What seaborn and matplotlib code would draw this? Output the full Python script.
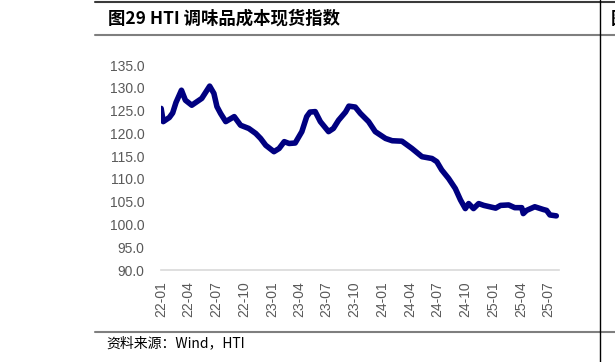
import numpy as np
import pandas as pd
import seaborn as sns
import matplotlib.pyplot as plt
import matplotlib.dates as mdates
from matplotlib.lines import Line2D

# HTI seasoning cost spot index
dates = [
    "2022-01-01", "2022-01-08", "2022-01-28", "2022-02-08", "2022-02-19",
    "2022-03-09", "2022-03-22", "2022-04-12", "2022-05-15", "2022-06-10",
    "2022-06-24", "2022-07-04", "2022-07-16", "2022-08-02", "2022-08-30",
    "2022-09-20", "2022-10-17", "2022-11-09", "2022-11-25", "2022-12-12",
    "2023-01-08", "2023-01-25", "2023-02-11", "2023-02-27", "2023-03-19",
    "2023-04-10", "2023-04-26", "2023-05-07", "2023-05-24", "2023-06-10",
    "2023-07-07", "2023-07-23", "2023-08-09", "2023-09-01", "2023-09-12",
    "2023-10-03", "2023-10-20", "2023-11-16", "2023-12-08", "2024-01-11",
    "2024-02-02", "2024-03-05", "2024-04-07", "2024-05-10", "2024-06-12",
    "2024-06-28", "2024-07-14", "2024-08-06", "2024-08-28", "2024-09-14",
    "2024-09-30", "2024-10-11", "2024-10-27", "2024-11-13", "2024-11-30",
    "2025-01-08", "2025-01-24", "2025-02-20", "2025-03-12", "2025-04-04",
    "2025-04-09", "2025-04-20", "2025-05-17", "2025-06-14", "2025-06-25",
    "2025-07-06", "2025-07-27",
]
index_values = [
    125.5, 122.6, 123.5, 124.5, 126.8,
    129.5, 127.3, 126.2, 127.7, 130.4,
    128.8, 125.9, 124.4, 122.6, 123.7,
    121.8, 121.1, 120.0, 118.9, 117.4,
    116.0, 116.7, 118.2, 117.8, 117.9,
    120.4, 123.7, 124.7, 124.8, 122.6,
    120.4, 121.1, 122.9, 124.7, 126.0,
    125.8, 124.4, 122.6, 120.4, 118.9,
    118.4, 118.3, 116.7, 114.9, 114.5,
    113.8, 112.0, 110.1, 107.9, 105.4,
    103.5, 104.6, 103.5, 104.6, 104.2,
    103.6, 104.2, 104.3, 103.7, 103.7,
    102.4, 103.1, 103.9, 103.3, 103.1,
    102.1, 101.9,
]
tick_dates = pd.date_range("2022-01-01", "2025-07-01", freq="3MS")
y_ticks = np.arange(90, 136, 5)

TITLE = "图29 HTI 调味品成本现货指数"
SOURCE = "资料来源：Wind，HTI"

df = pd.DataFrame({"date": pd.to_datetime(dates), "value": index_values})

sns.set_style("white")
plt.rcParams["font.family"] = ["Liberation Sans", "Noto Sans CJK SC", "DejaVu Sans"]

fig = plt.figure(figsize=(6.15, 3.62), dpi=100)
ax = fig.add_axes([0.262, 0.254, 0.647, 0.566])

sns.lineplot(data=df, x="date", y="value", ax=ax, color="#000080",
             linewidth=4, solid_joinstyle="round", solid_capstyle="round")

ax.set_ylim(90, 135)
ax.set_yticks(y_ticks)
ax.set_yticklabels([f"{v:.1f}" for v in y_ticks])
ax.set_xlim(pd.Timestamp("2022-01-01"), pd.Timestamp("2025-08-05"))
ax.set_xticks(tick_dates)
ax.xaxis.set_major_formatter(mdates.DateFormatter("%y-%m"))
ax.set_xlabel("")
ax.set_ylabel("")

for side in ["left", "top", "right"]:
    ax.spines[side].set_visible(False)
ax.spines["bottom"].set_color("#d9d9d9")
ax.spines["bottom"].set_linewidth(1.2)

ax.tick_params(axis="y", length=0, pad=12, labelsize=10, labelcolor="#595959")
ax.tick_params(axis="x", length=4, width=1, color="#d9d9d9", direction="out",
               pad=4, labelsize=10, labelcolor="#595959", rotation=90)
ax.grid(False)

# report frame: title rule, title, source rule, source
fig.add_artist(Line2D([0.154, 1.0], [0.995, 0.995], color="#3a3a3a", lw=1.5))
fig.add_artist(Line2D([0.154, 1.0], [0.903, 0.903], color="#7f7f7f", lw=1.5))
fig.add_artist(Line2D([0.154, 1.0], [0.0837, 0.0837], color="#7f7f7f", lw=1.5))
fig.add_artist(Line2D([0.9756, 0.9756], [0.0, 1.0], color="#000000", lw=1))

fig.text(0.175, 0.948, TITLE, fontsize=12.5, fontweight="bold", color="#000000",
         family=["Noto Sans CJK SC", "DejaVu Sans"], va="center", ha="left")
# first glyph of the neighbouring panel's title, cut by the page edge as in the source
fig.text(0.993, 0.948, "图", fontsize=12.5, fontweight="bold", color="#000000",
         family=["Noto Sans CJK SC", "DejaVu Sans"], va="center", ha="left")
fig.text(0.173, 0.052, SOURCE, fontsize=10, color="#000000",
         family=["Noto Sans CJK SC", "DejaVu Sans"], va="center", ha="left")

fig.savefig("out.png", dpi=100)
plt.close(fig)
